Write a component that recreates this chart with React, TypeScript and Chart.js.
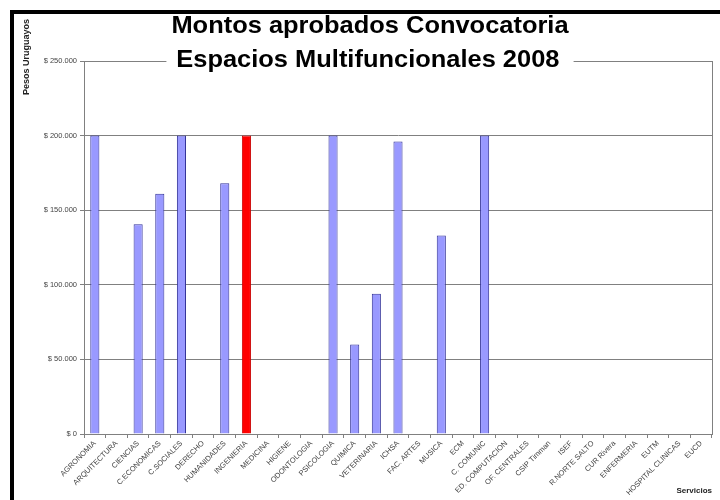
import { useEffect, useRef } from "react";
import { Chart, registerables } from "chart.js";

Chart.register(...registerables);

const categories = [
  "AGRONOMIA", "ARQUITECTURA", "CIENCIAS", "C.ECONOMICAS", "C.SOCIALES", "DERECHO",
  "HUMANIDADES", "INGENIERIA", "MEDICINA", "HIGIENE", "ODONTOLOGIA", "PSICOLOGIA",
  "QUIMICA", "VETERINARIA", "ICHSA", "FAC. ARTES", "MUSICA", "ECM", "C. COMUNIC",
  "ED. COMPUTACION", "OF. CENTRALES", "CSIP Timman", "ISEF", "R.NORTE SALTO",
  "CUR Rivera", "ENFERMERIA", "EUTM", "HOSPITAL CLINICAS", "EUCD",
];

const montos: (number | null)[] = [
  200000, null, 140500, 161000, 200000, null,
  168000, 200000, null, null, null, 200000,
  60000, 94000, 196000, null, 133000, null, 200000,
  null, null, null, null, null,
  null, null, null, null, null,
];

const destacados = ["INGENIERIA"];

const yMin = 0;
const yMax = 250000;
const yStep = 50000;

const titleLines = ["Montos aprobados Convocatoria", "Espacios Multifuncionales 2008"];
const yTitle = "Pesos Uruguayos";
const xTitle = "Servicios";

const FONT = '"Liberation Sans", Arial, sans-serif';

function formatPesos(v: number): string {
  const s = Math.round(v).toString().replace(/\B(?=(\d{3})+(?!\d))/g, ".");
  return "$ " + s;
}

const overlayPlugin = {
  id: "overlay",
  afterDraw(chart: any) {
    const ctx = chart.ctx as CanvasRenderingContext2D;
    const ca = chart.chartArea;
    ctx.save();
    ctx.strokeStyle = "#808080";
    ctx.lineWidth = 1;
    ctx.beginPath();
    const rx = Math.round(ca.right) + 0.5;
    ctx.moveTo(rx, ca.top);
    ctx.lineTo(rx, ca.bottom);
    ctx.stroke();

    const cx = 370;
    const sx = 1.06;
    ctx.font = "bold 24px " + FONT;
    const w = Math.max(...titleLines.map((t) => ctx.measureText(t).width)) * sx;
    ctx.fillStyle = "#ffffff";
    ctx.fillRect(cx - w / 2 - 5, 14, w + 10, 60);
    ctx.fillStyle = "#000000";
    ctx.textAlign = "center";
    ctx.textBaseline = "alphabetic";
    ctx.save();
    ctx.translate(cx, 0);
    ctx.scale(sx, 1);
    ctx.fillText(titleLines[0], 0, 33);
    ctx.fillText(titleLines[1], -2, 67);
    ctx.restore();

    ctx.translate(27, 57);
    ctx.rotate(-Math.PI / 2);
    ctx.font = "bold 9px " + FONT;
    ctx.textAlign = "center";
    ctx.textBaseline = "middle";
    ctx.fillStyle = "#222222";
    ctx.fillText(yTitle, 0, 0);
    ctx.restore();
  },
};

export default function App() {
  const ref = useRef<HTMLCanvasElement | null>(null);

  useEffect(() => {
    if (!ref.current) return;
    const chart = new Chart(ref.current, {
      type: "bar",
      data: {
        labels: categories,
        datasets: [
          {
            data: montos,
            backgroundColor: categories.map((c) => (destacados.includes(c) ? "#ff0000" : "#9999ff")),
            borderColor: categories.map((c) => (destacados.includes(c) ? "#cc0000" : "#333399")),
            borderWidth: 1,
            barPercentage: 0.42,
            categoryPercentage: 1,
          },
        ],
      },
      options: {
        responsive: false,
        animation: false,
        layout: { padding: { left: 14, right: 8, top: 61, bottom: 0 } },
        plugins: {
          legend: { display: false },
          tooltip: { enabled: false },
          title: { display: false },
        },
        scales: {
          x: {
            afterFit: (scale: any) => {
              scale.height = 66;
            },
            grid: {
              offset: true,
              drawOnChartArea: false,
              drawTicks: true,
              tickLength: 4,
              color: "#808080",
            },
            border: { color: "#808080" },
            ticks: {
              autoSkip: false,
              maxRotation: 45,
              minRotation: 45,
              padding: 1,
              color: "#444444",
              font: { family: FONT, size: 7.5 },
            },
            title: {
              display: true,
              text: xTitle,
              align: "end",
              color: "#222222",
              font: { family: FONT, size: 8, weight: "bold" },
            },
          },
          y: {
            min: yMin,
            max: yMax,
            afterFit: (scale: any) => {
              scale.width = 70;
            },
            grid: {
              color: "#808080",
              tickLength: 4,
            },
            border: { color: "#808080" },
            ticks: {
              stepSize: yStep,
              padding: 3,
              color: "#444444",
              font: { family: FONT, size: 7.5 },
              callback: (v: any) => formatPesos(Number(v)),
            },
          },
        },
      },
      plugins: [overlayPlugin],
    });
    return () => chart.destroy();
  }, []);

  return (
    <div
      style={{
        position: "fixed",
        left: 0,
        top: 0,
        width: 720,
        height: 500,
        overflow: "hidden",
        background: "#ffffff",
      }}
    >
      <canvas
        ref={ref}
        width={720}
        height={500}
        style={{ position: "absolute", left: 0, top: 0, width: 720, height: 500 }}
      />
      <div
        style={{
          position: "absolute",
          left: 10,
          top: 10,
          width: 730,
          height: 510,
          border: "4px solid #000000",
          pointerEvents: "none",
        }}
      />
    </div>
  );
}
